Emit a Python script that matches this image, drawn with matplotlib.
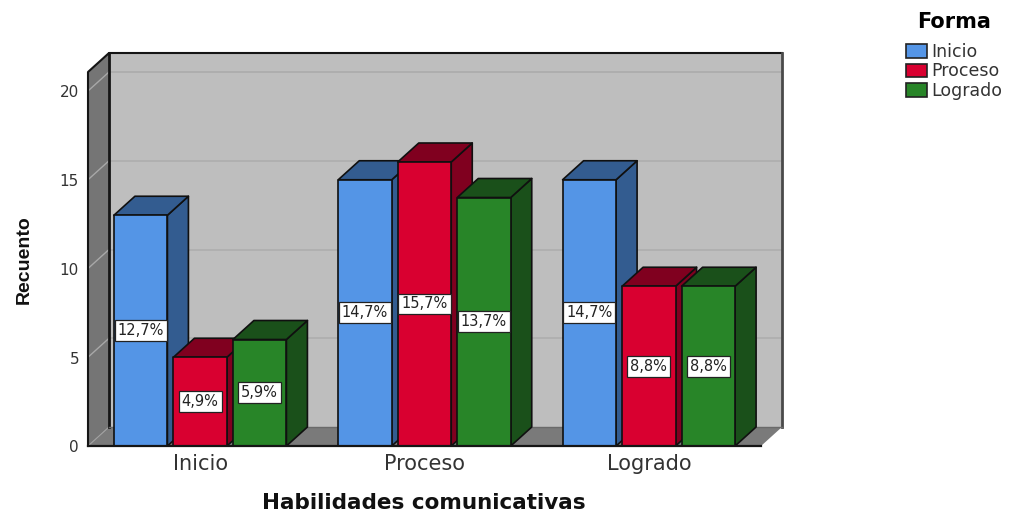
import matplotlib
matplotlib.use("Agg")
import matplotlib.pyplot as plt
from matplotlib.patches import Polygon, Patch

categories = ["Inicio", "Proceso", "Logrado"]
series_names = ["Inicio", "Proceso", "Logrado"]
inicio_vals = [13, 15, 15]
proceso_vals = [5, 16, 9]
logrado_vals = [6, 14, 9]
inicio_pct = ["12,7%", "14,7%", "14,7%"]
proceso_pct = ["4,9%", "15,7%", "8,8%"]
logrado_pct = ["5,9%", "13,7%", "8,8%"]
y_ticks = [0, 5, 10, 15, 20]

front = ["#5495e6", "#d90030", "#288528"]
side = ["#335c90", "#80001f", "#1a501a"]

W, H = 1014, 514
fig = plt.figure(figsize=(W / 100, H / 100), dpi=100)
# axes = front plane of the 3d box
ax = fig.add_axes([88 / W, (H - 446) / H, 673 / W, 374 / H])
ax.set_xlim(-0.5, 2.5)
ymax = 374 / 17.75
ax.set_ylim(0, ymax)
ax.axis("off")

# depth of the box in data units
dx = 21 / (673 / 3)
dy = 19 / 17.75
x0, x1 = -0.5, 2.5


def poly(pts, fc, ec="none", lw=0, z=1):
    ax.add_patch(Polygon(pts, closed=True, facecolor=fc, edgecolor=ec,
                         linewidth=lw, clip_on=False, zorder=z, joinstyle="round"))


# walls and floor
poly([(x0 + dx, dy), (x1 + dx, dy), (x1 + dx, ymax + dy), (x0 + dx, ymax + dy)], "#bebebe", z=1)
poly([(x0, 0), (x0 + dx, dy), (x0 + dx, ymax + dy), (x0, ymax)], "#757575", z=1)
poly([(x0, 0), (x1, 0), (x1 + dx, dy), (x0 + dx, dy)], "#7a7a7a", z=1)

# grid lines on the wall
for t in y_ticks[1:]:
    ax.plot([x0 + dx, x1 + dx], [t + dy, t + dy], color="#aeaeae", lw=1.2, zorder=2, clip_on=False)
    ax.plot([x0, x0 + dx], [t, t + dy], color="#a8a8a8", lw=1, zorder=2, clip_on=False)
ax.plot([x0 + dx, x1 + dx], [ymax, ymax], color="#aeaeae", lw=1.2, zorder=2, clip_on=False)
ax.plot([x0, x0 + dx], [0, dy], color="#a0a0a0", lw=0.8, zorder=2, clip_on=False)

# box outline
ax.plot([x0, x0, x0 + dx, x1 + dx], [0, ymax, ymax + dy, ymax + dy], color="#151515", lw=1.5, zorder=3, clip_on=False)
ax.plot([x0 + dx, x0 + dx], [dy, ymax + dy], color="#151515", lw=2, zorder=3, clip_on=False)
ax.plot([x1 + dx, x1 + dx], [dy, ymax + dy], color="#4a4a4a", lw=2, zorder=3, clip_on=False)
ax.plot([x0 + dx, x1 + dx], [dy, dy], color="#6a6a6a", lw=1, zorder=3, clip_on=False)

# bars
bar_w = 53.5 / (673 / 3)
step = 59.5 / (673 / 3)
all_vals = [inicio_vals, proceso_vals, logrado_vals]
all_pct = [inicio_pct, proceso_pct, logrado_pct]
z = 4
for g in range(len(categories)):
    for s in range(3):
        v = all_vals[s][g]
        left = g + (s - 1) * step - bar_w / 2
        right = left + bar_w
        poly([(right, 0), (right + dx, dy), (right + dx, v + dy), (right, v)], side[s], "#101010", 1.2, z)
        poly([(left, v), (right, v), (right + dx, v + dy), (left + dx, v + dy)], side[s], "#101010", 1.2, z)
        poly([(left, 0), (right, 0), (right, v), (left, v)], front[s], "#101010", 1.2, z + 0.1)
        ax.text((left + right) / 2, v / 2, all_pct[s][g], ha="center", va="center", fontsize=10.5,
                color="#222222", zorder=50,
                bbox=dict(boxstyle="square,pad=0.2", fc="white", ec="#222222", lw=0.9))
        z += 1

# front axis lines
ax.plot([x0, x1], [0, 0], color="#151515", lw=1.6, zorder=40, clip_on=False)

for t in y_ticks:
    ax.text(x0 - 0.04, t - 0.1, str(t), ha="right", va="center", fontsize=11, color="#333333")
for i, c in enumerate(categories):
    ax.text(i, -1.03, c, ha="center", va="center", fontsize=15, color="#333333")

fig.text(424 / W, 1 - 503 / H, "Habilidades comunicativas", ha="center", va="center",
         fontsize=15.5, fontweight="bold", color="#111111")
fig.text(24 / W, 1 - 260 / H, "Recuento", rotation=90, ha="center", va="center",
         fontsize=14, fontweight="bold", color="#111111", family="Liberation Sans")

handles = [Patch(facecolor=front[i], edgecolor="#222222", linewidth=1.2, label=series_names[i]) for i in range(3)]
leg = fig.legend(handles=handles, title="Forma", loc="upper left", bbox_to_anchor=(906 / W, 1 - 12 / H),
                 frameon=False, fontsize=12.5, handlelength=1.2, handleheight=0.86, handletextpad=0.25,
                 labelspacing=0.08, borderpad=0, borderaxespad=0, labelcolor="#333333",
                 title_fontproperties={"weight": "bold", "size": 15})
# push the entries down from the title
leg._legend_box.sep = 8
plt.savefig("out.png", dpi=100)
